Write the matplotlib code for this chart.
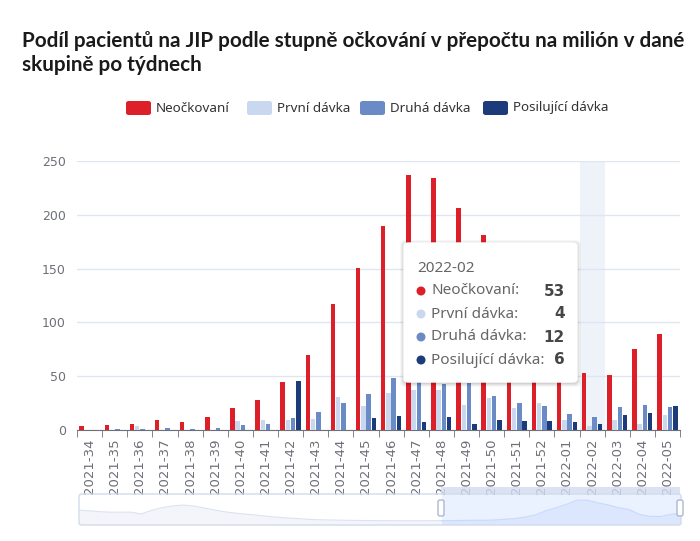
import numpy as np
import matplotlib
matplotlib.use('Agg')
import matplotlib.pyplot as plt
from matplotlib.patches import FancyBboxPatch, Rectangle, Ellipse

W, H = 700, 541

weeks = ['2021-34', '2021-35', '2021-36', '2021-37', '2021-38', '2021-39', '2021-40', '2021-41',
         '2021-42', '2021-43', '2021-44', '2021-45', '2021-46', '2021-47', '2021-48', '2021-49',
         '2021-50', '2021-51', '2021-52', '2022-01', '2022-02', '2022-03', '2022-04', '2022-05']
series_names = ['Neočkovaní', 'První dávka', 'Druhá dávka', 'Posilující dávka']
neockovani = [4, 5, 6, 9, 7.5, 12, 20, 28, 45, 70, 117, 151, 190, 237, 234, 206, 181, 150, 130, 75, 53, 51, 75, 89]
prvni = [0, 0, 4, 0, 0, 0, 8, 9, 9, 10, 31, 22, 34, 37, 37, 23, 30, 20, 25, 9, 4, 9, 6, 14]
druha = [0, 0.6, 0.6, 1.5, 0.6, 2, 5, 6, 11, 17, 25, 33, 48, 45, 43, 44, 32, 25, 22, 15, 12, 21, 23, 21]
posilujici = [0, 0, 0, 0, 0, 0, 0, 0, 46, 0, 0, 11, 13, 7.5, 12, 6, 9, 8, 8, 7, 6, 14, 16, 22]
# neockovani before the shown window (only visible in the zoom slider)
earlier_neockovani = [124, 115, 105, 100, 100, 100, 80, 120, 150, 170, 180, 170, 150, 125, 105, 90,
                      78, 68, 55, 45, 35, 28, 20, 15, 12, 10, 8, 6, 5, 4, 4, 3, 3, 3, 4]
tooltip_week = '2022-02'

colors = ['#dc1f28', '#c9d7ef', '#6a8bc6', '#1c3b7a']
all_series = [neockovani, prvni, druha, posilujici]
title_font = ['Lato', 'DejaVu Sans']
text_font = ['Noto Sans', 'DejaVu Sans']


def fx(x):
    return x / W


def fy(y):
    return 1 - y / H


fig = plt.figure(figsize=(7, 5.41), dpi=100)

# title
fig.text(fx(22), fy(47), 'Podíl pacientů na JIP podle stupně očkování v přepočtu na milión v dané',
         fontsize=14.9, fontweight='bold', family=title_font, color='#1a1a1a', va='baseline')
fig.text(fx(22), fy(71), 'skupině po týdnech',
         fontsize=14.9, fontweight='bold', family=title_font, color='#1a1a1a', va='baseline')

# legend
leg_x = [126, 247, 360, 483]
for name, c, lx in zip(series_names, colors, leg_x):
    fig.patches.append(FancyBboxPatch((fx(lx), fy(115)), 25 / W, 14 / H,
                                      boxstyle='round,pad=0,rounding_size=0.004',
                                      transform=fig.transFigure, fc=c, ec='none'))
    fig.text(fx(lx + 30), fy(108), name, fontsize=9.7, color='#333333', va='center',
             family=text_font)

# main axes
ax = fig.add_axes([fx(77), fy(430), (680 - 77) / W, (430 - 161) / H])
x = np.arange(len(weeks))
bw = 0.18
offs = [-0.315, -0.105, 0.105, 0.315]
hi = weeks.index(tooltip_week)
ax.axvspan(hi - 0.5, hi + 0.5, color='#eef2f9', zorder=0, lw=0)
for vals, c, o in zip(all_series, colors, offs):
    ax.bar(x + o, vals, width=bw, color=c, zorder=3)

ax.set_xlim(-0.5, len(weeks) - 0.5)
ax.set_ylim(0, 250)
ax.set_yticks(range(0, 251, 50))
ax.grid(axis='y', color='#e0e6f1', lw=1, zorder=1)
for s in ['left', 'right', 'top']:
    ax.spines[s].set_visible(False)
ax.spines['bottom'].set_color('#6e7079')
ax.tick_params(axis='y', length=0, pad=8, labelsize=9, labelcolor='#6e7079')
ax.set_xticks(x)
ax.set_xticklabels(weeks, rotation=90, fontsize=9.5, color='#6e7079')
ax.tick_params(axis='x', which='major', length=0, pad=6)
ax.set_xticks(np.arange(-0.5, len(weeks)), minor=True)
ax.tick_params(axis='x', which='minor', length=5, color='#6e7079')

# data zoom slider
overview = earlier_neockovani + neockovani
n = len(overview)
sx0, sx1, sy0, sy1 = 79, 681, 494, 525
sel0 = 441
sax = fig.add_axes([fx(sx0), fy(sy1), (sx1 - sx0) / W, (sy1 - sy0) / H])
sax.set_xlim(0, n - 1)
sax.set_ylim(-45, 305)
sax.axis('off')
xs = np.arange(n)
k = len(earlier_neockovani)
sax.fill_between(xs[:k + 1], overview[:k + 1], -45, color='#d2dbee', alpha=0.25, lw=0)
sax.plot(xs[:k + 1], overview[:k + 1], color='#d2dbee', lw=0.8, alpha=0.8)
sax.axvspan(k, n - 1, color=(135 / 255, 175 / 255, 1.0), alpha=0.17, lw=0)
sax.fill_between(xs[k:], overview[k:], -45, color='#8fb0f7', alpha=0.15, lw=0)
sax.plot(xs[k:], overview[k:], color='#8fb0f7', lw=0.8, alpha=0.35)
fig.patches.append(FancyBboxPatch((fx(sx0), fy(sy1)), (sx1 - sx0) / W, (sy1 - sy0) / H,
                                  boxstyle='round,pad=0,rounding_size=0.004',
                                  transform=fig.transFigure, fc='none', ec='#d2dbee', lw=1))
fig.patches.append(Rectangle((fx(sel0), fy(sy0)), (680 - sel0) / W, 7 / H,
                             transform=fig.transFigure, fc='#d2dbee', ec='none', alpha=0.8))
for hx in [sel0, 680]:
    fig.patches.append(FancyBboxPatch((fx(hx - 3), fy(516)), 6 / W, 16 / H,
                                      boxstyle='round,pad=0,rounding_size=0.003',
                                      transform=fig.transFigure, fc='white', ec='#acb8d1',
                                      lw=1, zorder=5))

# tooltip
tx0, tx1, ty0, ty1 = 404, 577, 243, 382
for i, a in enumerate([0.03, 0.04, 0.05, 0.06]):
    g = 4 - i
    fig.patches.append(FancyBboxPatch((fx(tx0 - g), fy(ty1 + g + 1)), (tx1 - tx0 + 2 * g) / W,
                                      (ty1 - ty0 + 2 * g) / H,
                                      boxstyle='round,pad=0,rounding_size=0.008',
                                      transform=fig.transFigure, fc='black', alpha=a,
                                      ec='none', zorder=10))
fig.patches.append(FancyBboxPatch((fx(tx0), fy(ty1)), (tx1 - tx0) / W, (ty1 - ty0) / H,
                                  boxstyle='round,pad=0,rounding_size=0.006',
                                  transform=fig.transFigure, fc='white', ec='#ffffff',
                                  zorder=11))
fig.text(fx(417), fy(268), tooltip_week, fontsize=11, color='#666666', va='center',
         family=text_font, zorder=12)
row_y = [291, 314, 337, 360]
for name, c, vals, ry in zip(series_names, colors, all_series, row_y):
    fig.patches.append(Ellipse((fx(421), fy(ry)), 9 / W, 9 / H, transform=fig.transFigure,
                               fc=c, ec='none', zorder=12))
    fig.text(fx(431), fy(ry), name + ':', fontsize=11, color='#666666', va='center',
             family=text_font, zorder=12)
    v = vals[hi]
    fig.text(fx(565), fy(ry), '%g' % v, fontsize=11, color='#464646', va='center',
             ha='right', fontweight='bold', family=['DejaVu Sans'], zorder=12)

fig.savefig('out.png', dpi=100)
